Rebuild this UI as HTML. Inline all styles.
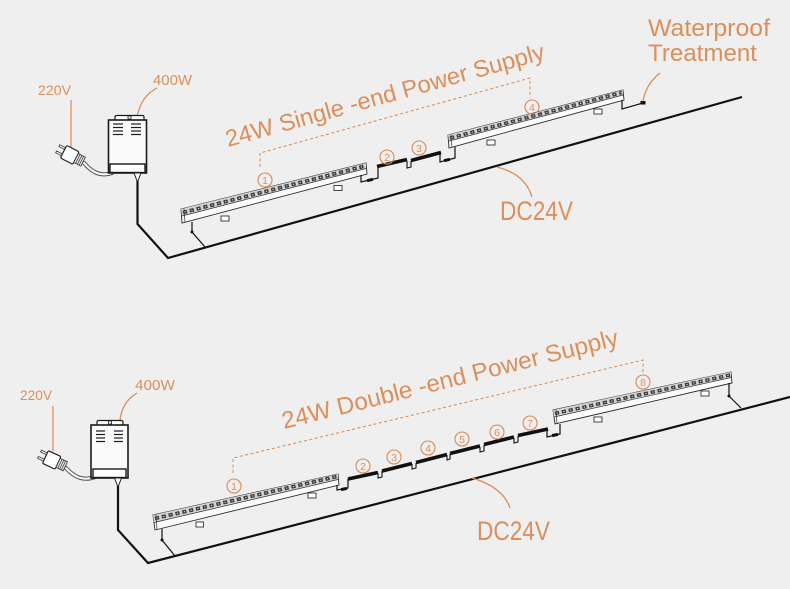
<!DOCTYPE html>
<html><head><meta charset="utf-8"><style>
html,body{margin:0;padding:0;background:#efefef;}
svg{display:block;}
text{font-family:"Liberation Sans",sans-serif;fill:#db8f5a;}
</style></head><body>
<svg width="790" height="589" viewBox="0 0 790 589" xmlns="http://www.w3.org/2000/svg">
<rect x="0" y="0" width="790" height="589" fill="#efefef"/>

<!-- ================= TOP DIAGRAM ================= -->
<text x="38" y="95" font-size="14" textLength="33" lengthAdjust="spacingAndGlyphs">220V</text>
<line x1="71" y1="100" x2="71" y2="147" stroke="#d88a52" stroke-width="1.2"/>
<text x="153" y="85" font-size="14.5" textLength="39" lengthAdjust="spacingAndGlyphs">400W</text>
<path d="M157,88 Q141,96 137,117" fill="none" stroke="#d88a52" stroke-width="1.2"/>

<path d="M84,163 C92,172 100,177 112,173" fill="none" stroke="#555" stroke-width="4.2" stroke-linecap="round"/>
<path d="M84,163 C92,172 100,177 112,173" fill="none" stroke="#f4f4f4" stroke-width="2.2" stroke-linecap="round"/>
<g transform="translate(72,156) rotate(27)">
<rect x="-16" y="-4.5" width="7" height="2" fill="#fff" stroke="#333" stroke-width="0.8"/>
<rect x="-16" y="2.5" width="7" height="2" fill="#fff" stroke="#333" stroke-width="0.8"/>
<rect x="-9.5" y="-7" width="14" height="14" rx="1.5" fill="#fff" stroke="#222" stroke-width="1.2"/>
<rect x="4.5" y="-5" width="8" height="10" fill="#e6e6e6" stroke="#333" stroke-width="0.8"/>
<line x1="6.5" y1="-5" x2="6.5" y2="5" stroke="#333" stroke-width="0.7"/>
<line x1="8.5" y1="-5" x2="8.5" y2="5" stroke="#333" stroke-width="0.7"/>
<line x1="10.5" y1="-5" x2="10.5" y2="5" stroke="#333" stroke-width="0.7"/>
</g>

<rect x="115" y="115.5" width="29" height="5" rx="1.5" fill="#fff" stroke="#1a1a1a" stroke-width="1.2"/>
<rect x="128" y="116" width="3" height="3" fill="#fff" stroke="#1a1a1a" stroke-width="0.8"/>
<rect x="108.5" y="120" width="38" height="53" fill="#fafafa" stroke="#1a1a1a" stroke-width="1.6"/>
<g stroke="#1a1a1a" stroke-width="1.2">
<line x1="113" y1="124" x2="123" y2="124"/><line x1="113" y1="127.5" x2="123" y2="127.5"/>
<line x1="113" y1="131" x2="123" y2="131"/><line x1="113" y1="134.5" x2="123" y2="134.5"/>
<line x1="131" y1="124" x2="141" y2="124"/><line x1="131" y1="127.5" x2="141" y2="127.5"/>
<line x1="131" y1="131" x2="141" y2="131"/><line x1="131" y1="134.5" x2="141" y2="134.5"/>
</g>
<rect x="110" y="164" width="35" height="8.5" fill="#fff" stroke="#1a1a1a" stroke-width="1.4"/>
<polygon points="134,173 141,173 137.5,182" fill="#fff" stroke="#222" stroke-width="1"/>

<path d="M137.5,181 V224 L168,258 L742,97" fill="none" stroke="#111" stroke-width="2.2" stroke-linejoin="miter"/>

<polygon points="181,209 366,163 367,174 182,223" fill="#fbfbfb" stroke="#2a2a2a" stroke-width="0.9"/>
<polygon points="181,209 366,163 366,168.5 182,216" fill="#d2d2d2"/>
<line x1="183" y1="212.5" x2="365" y2="166" stroke="#3a3a3a" stroke-width="3.6" stroke-dasharray="4.2 2.8"/>
<line x1="183" y1="212.5" x2="365" y2="166" stroke="#e8e8e8" stroke-width="1.1" stroke-dasharray="1.2 5.8" stroke-dashoffset="-1.5"/>
<line x1="182" y1="216" x2="366" y2="168.5" stroke="#333" stroke-width="0.7"/>
<line x1="184" y1="208.5" x2="185" y2="222.5" stroke="#333" stroke-width="0.7"/>
<rect x="221" y="216" width="8" height="5" fill="#fff" stroke="#333" stroke-width="0.9"/>
<rect x="334" y="185.5" width="8" height="5" fill="#fff" stroke="#333" stroke-width="0.9"/>
<path d="M192,222 V232 L205,247" fill="none" stroke="#111" stroke-width="1.2"/>
<circle cx="192" cy="232" r="1.5" fill="#111"/>

<path d="M361,175 V182 L378,178 V167" fill="none" stroke="#111" stroke-width="1.2"/>
<rect x="367" y="178.5" width="6" height="3" fill="#111" transform="rotate(-14 370 180)"/>
<line x1="377" y1="166.5" x2="407" y2="159.5" stroke="#111" stroke-width="3.6"/>
<path d="M407,161 V168 L411,167 V161" fill="none" stroke="#111" stroke-width="1.1"/>
<line x1="411" y1="160.5" x2="441" y2="152.5" stroke="#111" stroke-width="3.6"/>
<path d="M440,154 V162 L455,158 V147" fill="none" stroke="#111" stroke-width="1.2"/>
<rect x="444" y="158.5" width="6" height="3" fill="#111" transform="rotate(-14 447 160)"/>

<polygon points="448,135 623,90 624,100 449,148" fill="#fbfbfb" stroke="#2a2a2a" stroke-width="0.9"/>
<polygon points="448,135 623,90 623,95 449,141" fill="#d2d2d2"/>
<line x1="450" y1="138" x2="622" y2="92.5" stroke="#3a3a3a" stroke-width="3.4" stroke-dasharray="4.2 2.8"/>
<line x1="450" y1="138" x2="622" y2="92.5" stroke="#e8e8e8" stroke-width="1.1" stroke-dasharray="1.2 5.8" stroke-dashoffset="-1.5"/>
<line x1="449" y1="141" x2="623" y2="95" stroke="#333" stroke-width="0.7"/>
<line x1="451" y1="134.5" x2="452" y2="147.5" stroke="#333" stroke-width="0.7"/>
<rect x="487" y="140" width="8" height="5" fill="#fff" stroke="#333" stroke-width="0.9"/>
<rect x="594" y="109" width="8" height="5" fill="#fff" stroke="#333" stroke-width="0.9"/>
<path d="M622,100 V109 L643,103" fill="none" stroke="#111" stroke-width="1.2"/>
<rect x="640.5" y="101" width="5" height="3.5" fill="#111"/>

<path d="M260,167 V153 L530,78 V98" fill="none" stroke="#d88a52" stroke-width="1" stroke-dasharray="3 2.5"/>

<g fill="none" stroke="#d88a52" stroke-width="1.1">
<circle cx="265" cy="180" r="7"/><circle cx="387" cy="157" r="7"/>
<circle cx="419" cy="148" r="7"/><circle cx="532" cy="107" r="7"/>
</g>
<g font-size="10.5" text-anchor="middle">
<text x="265" y="183.8">1</text><text x="387" y="160.8">2</text>
<text x="419" y="151.8">3</text><text x="532" y="110.8">4</text>
</g>

<text x="0" y="0" font-size="23.5" textLength="330" lengthAdjust="spacingAndGlyphs" transform="translate(228,147) rotate(-15.5)">24W Single -end Power Supply</text>

<text x="648" y="36" font-size="24" textLength="122" lengthAdjust="spacingAndGlyphs">Waterproof</text>
<text x="648" y="61" font-size="24" textLength="109" lengthAdjust="spacingAndGlyphs">Treatment</text>
<path d="M643,101 Q646,84 660,73" fill="none" stroke="#d88a52" stroke-width="1.2"/>

<path d="M497,167 Q525,174 532,197" fill="none" stroke="#d88a52" stroke-width="1.2"/>
<text x="500" y="220" font-size="27" textLength="73" lengthAdjust="spacingAndGlyphs">DC24V</text>

<!-- ================= BOTTOM DIAGRAM ================= -->
<text x="20" y="400" font-size="14" textLength="32" lengthAdjust="spacingAndGlyphs">220V</text>
<line x1="53" y1="406" x2="53" y2="451" stroke="#d88a52" stroke-width="1.2"/>
<text x="135" y="390" font-size="14.5" textLength="40" lengthAdjust="spacingAndGlyphs">400W</text>
<path d="M137,393 Q122,402 120,420" fill="none" stroke="#d88a52" stroke-width="1.2"/>

<path d="M66,468 C75,478 84,481 95,477" fill="none" stroke="#555" stroke-width="4.2" stroke-linecap="round"/>
<path d="M66,468 C75,478 84,481 95,477" fill="none" stroke="#f4f4f4" stroke-width="2.2" stroke-linecap="round"/>
<g transform="translate(54,461) rotate(25)">
<rect x="-16" y="-4.5" width="7" height="2" fill="#fff" stroke="#333" stroke-width="0.8"/>
<rect x="-16" y="2.5" width="7" height="2" fill="#fff" stroke="#333" stroke-width="0.8"/>
<rect x="-9.5" y="-7" width="14" height="14" rx="1.5" fill="#fff" stroke="#222" stroke-width="1.2"/>
<rect x="4.5" y="-5" width="8" height="10" fill="#e6e6e6" stroke="#333" stroke-width="0.8"/>
<line x1="6.5" y1="-5" x2="6.5" y2="5" stroke="#333" stroke-width="0.7"/>
<line x1="8.5" y1="-5" x2="8.5" y2="5" stroke="#333" stroke-width="0.7"/>
<line x1="10.5" y1="-5" x2="10.5" y2="5" stroke="#333" stroke-width="0.7"/>
</g>

<rect x="97" y="420.5" width="26" height="5" rx="1.5" fill="#fff" stroke="#1a1a1a" stroke-width="1.2"/>
<rect x="108.5" y="421" width="3" height="3" fill="#fff" stroke="#1a1a1a" stroke-width="0.8"/>
<rect x="91" y="425" width="37" height="53" fill="#fafafa" stroke="#1a1a1a" stroke-width="1.6"/>
<g stroke="#1a1a1a" stroke-width="1.2">
<line x1="96" y1="431" x2="105" y2="431"/><line x1="96" y1="434.5" x2="105" y2="434.5"/>
<line x1="96" y1="438" x2="105" y2="438"/><line x1="96" y1="441.5" x2="105" y2="441.5"/>
<line x1="114" y1="431" x2="123" y2="431"/><line x1="114" y1="434.5" x2="123" y2="434.5"/>
<line x1="114" y1="438" x2="123" y2="438"/><line x1="114" y1="441.5" x2="123" y2="441.5"/>
</g>
<rect x="93" y="469" width="33" height="8.5" fill="#fff" stroke="#1a1a1a" stroke-width="1.4"/>
<polygon points="114.5,478 121.5,478 118,487" fill="#fff" stroke="#222" stroke-width="1"/>

<path d="M118,486 V530 L148,563 L790,397" fill="none" stroke="#111" stroke-width="2.2"/>

<polygon points="153,515 338,474 339,485 155,530" fill="#fbfbfb" stroke="#2a2a2a" stroke-width="0.9"/>
<polygon points="153,515 338,474 338,479.5 154,522.5" fill="#d2d2d2"/>
<line x1="155" y1="518.5" x2="337" y2="476.5" stroke="#3a3a3a" stroke-width="3.6" stroke-dasharray="4.2 2.8"/>
<line x1="155" y1="518.5" x2="337" y2="476.5" stroke="#e8e8e8" stroke-width="1.1" stroke-dasharray="1.2 5.8" stroke-dashoffset="-1.5"/>
<line x1="154" y1="522.5" x2="338" y2="479.5" stroke="#333" stroke-width="0.7"/>
<line x1="156" y1="514.5" x2="157" y2="529.5" stroke="#333" stroke-width="0.7"/>
<rect x="196" y="522" width="7.5" height="5" fill="#fff" stroke="#333" stroke-width="0.9"/>
<rect x="308" y="493" width="8" height="5" fill="#fff" stroke="#333" stroke-width="0.9"/>
<path d="M162,529 V540 L175,556" fill="none" stroke="#111" stroke-width="1.2"/>
<circle cx="162" cy="540" r="1.5" fill="#111"/>

<path d="M337,485 V490 L348,488 V479" fill="none" stroke="#111" stroke-width="1.2"/>
<rect x="341" y="487.5" width="6" height="3" fill="#111" transform="rotate(-12 344 489)"/>
<g stroke="#111" stroke-width="3.6">
<line x1="348" y1="479" x2="378" y2="472.5"/>
<line x1="382" y1="471" x2="412" y2="463.5"/>
<line x1="416" y1="462.5" x2="447" y2="454.5"/>
<line x1="450" y1="453.5" x2="480" y2="446"/>
<line x1="484" y1="444.5" x2="514" y2="437"/>
<line x1="518" y1="435.5" x2="548" y2="429"/>
</g>
<g fill="none" stroke="#111" stroke-width="1.1">
<path d="M378,473 V478 L382,477 V471"/>
<path d="M412,464 V469 L416,468 V463"/>
<path d="M447,455 V460 L450,459 V454"/>
<path d="M480,447 V452 L484,451 V445"/>
<path d="M514,438 V443 L518,442 V436"/>
</g>
<path d="M547,430 V437 L560,434 V424" fill="none" stroke="#111" stroke-width="1.2"/>
<rect x="552" y="433.5" width="6" height="3" fill="#111" transform="rotate(-12 555 435)"/>

<polygon points="553,410 731,372 732,383 555,424" fill="#fbfbfb" stroke="#2a2a2a" stroke-width="0.9"/>
<polygon points="553,410 731,372 731,377.5 554,417" fill="#d2d2d2"/>
<line x1="555" y1="413.5" x2="730" y2="375" stroke="#3a3a3a" stroke-width="3.4" stroke-dasharray="4.2 2.8"/>
<line x1="555" y1="413.5" x2="730" y2="375" stroke="#e8e8e8" stroke-width="1.1" stroke-dasharray="1.2 5.8" stroke-dashoffset="-1.5"/>
<line x1="554" y1="417" x2="731" y2="377.5" stroke="#333" stroke-width="0.7"/>
<line x1="556" y1="409.5" x2="557" y2="423.5" stroke="#333" stroke-width="0.7"/>
<rect x="594" y="417" width="8" height="5" fill="#fff" stroke="#333" stroke-width="0.9"/>
<rect x="701" y="391" width="8" height="5" fill="#fff" stroke="#333" stroke-width="0.9"/>
<path d="M729,383 V396 L741,408" fill="none" stroke="#111" stroke-width="1.2"/>
<circle cx="729" cy="396" r="1.5" fill="#111"/>

<path d="M233,473 V458 L643,360 V374" fill="none" stroke="#d88a52" stroke-width="1" stroke-dasharray="3 2.5"/>

<g fill="none" stroke="#d88a52" stroke-width="1.1">
<circle cx="234" cy="486" r="7"/><circle cx="363" cy="466" r="7"/>
<circle cx="394" cy="457" r="7"/><circle cx="428" cy="448" r="7"/>
<circle cx="462" cy="439" r="7"/><circle cx="497" cy="432" r="7"/>
<circle cx="530" cy="423" r="7"/><circle cx="643" cy="382" r="7"/>
</g>
<g font-size="10.5" text-anchor="middle">
<text x="234" y="489.8">1</text><text x="363" y="469.8">2</text>
<text x="394" y="460.8">3</text><text x="428" y="451.8">4</text>
<text x="462" y="442.8">5</text><text x="497" y="435.8">6</text>
<text x="530" y="426.8">7</text><text x="643" y="385.8">8</text>
</g>

<text x="0" y="0" font-size="24" textLength="346" lengthAdjust="spacingAndGlyphs" transform="translate(284,429) rotate(-14.05)">24W Double -end Power Supply</text>

<path d="M472,478 Q503,487 510,508" fill="none" stroke="#d88a52" stroke-width="1.2"/>
<text x="477" y="540" font-size="27" textLength="73" lengthAdjust="spacingAndGlyphs">DC24V</text>
</svg>
</body></html>
